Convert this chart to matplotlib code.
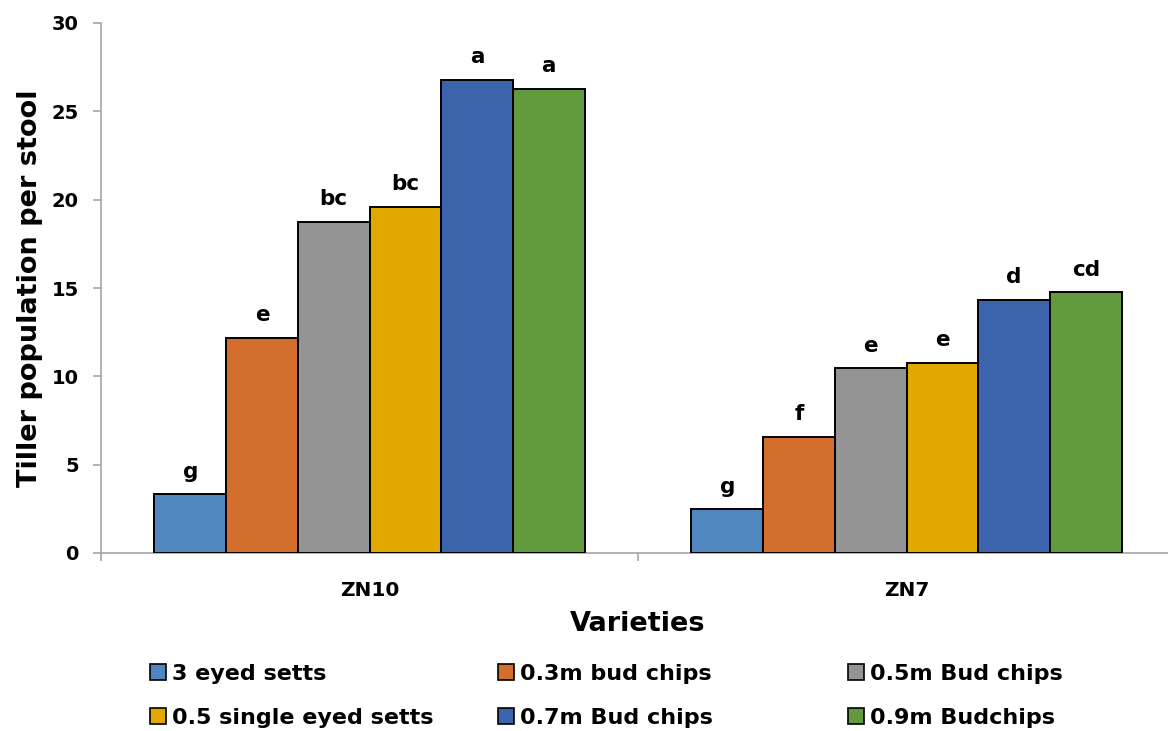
import numpy as np
import matplotlib.pyplot as plt
from matplotlib.patches import Patch

# Data
varieties = ["ZN10", "ZN7"]
treatments = ["3 eyed setts", "0.3m bud chips", "0.5m Bud chips",
              "0.5 single eyed setts", "0.7m Bud chips", "0.9m Budchips"]
zn10 = [3.32, 12.17, 18.73, 19.60, 26.77, 26.26]
zn7 = [2.47, 6.58, 10.45, 10.77, 14.32, 14.75]
letters_zn10 = ["g", "e", "bc", "bc", "a", "a"]
letters_zn7 = ["g", "f", "e", "e", "d", "cd"]
colors = ["#4F87BE", "#D36E2C", "#949494", "#E1A900", "#3C64AC", "#629A3E"]

plt.rcParams['font.family'] = ['DejaVu Sans']

fig = plt.figure(figsize=(11.68, 7.31), dpi=100)
ax = fig.add_axes([101 / 1168, 1 - 553 / 731, 1074 / 1168, 530 / 731])

n = len(treatments)
bw = 0.1335
x = np.arange(len(varieties))
values = np.array([zn10, zn7])
letters = [letters_zn10, letters_zn7]

handles = []
for i in range(n):
    pos = x + (i - (n - 1) / 2) * bw
    bars = ax.bar(pos, values[:, i], width=bw, color=colors[i],
                  edgecolor="black", linewidth=1.4, zorder=3)
    handles.append(Patch(facecolor=colors[i], edgecolor="black", linewidth=1.2))
    for j, b in enumerate(bars):
        ax.annotate(letters[j][i], (b.get_x() + b.get_width() / 2, b.get_height()),
                    xytext=(0, 12), textcoords="offset points",
                    ha="center", va="baseline", fontsize=15.5, fontweight="bold")

ax.set_xlim(-0.5, 1.5)
ax.set_ylim(0, 30)
ax.set_yticks(np.arange(0, 31, 5))
ax.set_xticks(x)
ax.set_xticklabels(varieties)
ax.set_xticks([-0.5, 0.5, 1.5], minor=True)

for s in ["top", "right"]:
    ax.spines[s].set_visible(False)
for s in ["left", "bottom"]:
    ax.spines[s].set_color("#A6A6A6")
    ax.spines[s].set_linewidth(1.2)

ax.tick_params(axis="y", direction="out", length=6, color="#A6A6A6", width=1.2,
               labelsize=14, pad=10)
ax.tick_params(axis="x", which="major", length=0, labelsize=14.5, pad=20)
ax.tick_params(axis="x", which="minor", direction="out", length=6,
               color="#A6A6A6", width=1.2)
for lbl in ax.get_xticklabels() + ax.get_yticklabels():
    lbl.set_fontweight("bold")

ax.set_ylabel("Tiller population per stool", fontsize=19.5, fontweight="heavy",
              labelpad=6)
ax.set_xlabel("Varieties", fontsize=19.5, fontweight="heavy", labelpad=8)

# Legend: three fixed-width columns, two entries each, filled row by row
col_x = [150, 498, 848]
for c, x0 in enumerate(col_x):
    idx = [c, c + 3]
    fig.legend([handles[k] for k in idx], [treatments[k] for k in idx],
               loc="upper left", bbox_to_anchor=(x0 / 1168, 1 - 664 / 731),
               frameon=False, prop={"size": 16, "weight": "bold"},
               borderpad=0, borderaxespad=0,
               handlelength=0.7, handleheight=0.7, handletextpad=0.3,
               labelspacing=1.06)

fig.savefig("out.png", dpi=100)
